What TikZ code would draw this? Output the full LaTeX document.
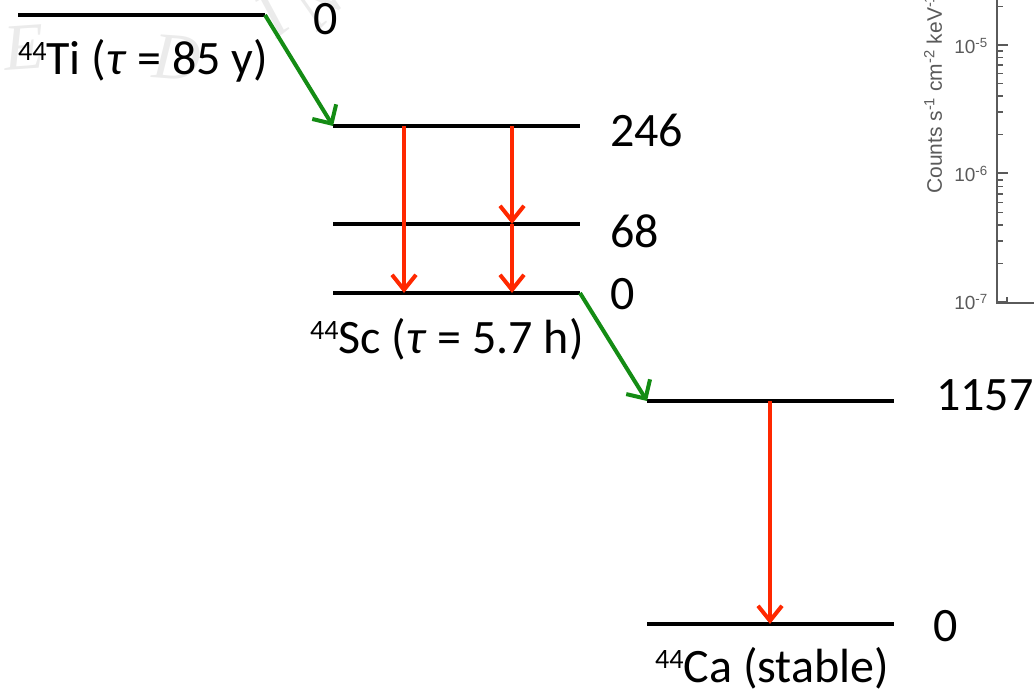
\documentclass[tikz,border=0pt]{standalone}
\usepackage{fontspec}
\setmainfont{Carlito}
\newfontfamily\plotfont{Liberation Sans}
\newfontfamily\wmfont{Liberation Serif}
\usetikzlibrary{arrows.meta}
\definecolor{gred}{RGB}{255,40,0}
\definecolor{bgreen}{RGB}{20,140,20}
\definecolor{axgray}{RGB}{90,90,90}
\newcommand\isotope[2]{\raisebox{14pt}{\fontsize{28}{28}\selectfont #1}#2}
\begin{document}
\begin{tikzpicture}[x=1pt,y=-1pt,
  lvl/.style={line width=3.2pt, black},
  gam/.style={draw=gred, line width=4pt, -{Straight Barb[length=15pt,width=24pt,line width=4pt]}},
  bet/.style={draw=bgreen, line width=4pt, -{Straight Barb[length=14pt,width=28pt,line width=4pt]}},
  big/.style={font=\fontsize{48}{52}\selectfont, inner sep=0pt, anchor=base west},
  wm/.style={font=\wmfont\itshape\fontsize{66}{70}\selectfont, text=gray!16, inner sep=0pt},
  plt/.style={font=\plotfont\fontsize{19}{20}\selectfont, text=axgray, inner sep=0pt},
  axl/.style={draw=axgray, line width=1.4pt}
]
\useasboundingbox (0,0) rectangle (1034,693);

% watermark
\node[wm, rotate=4] (wmE) at (24,48) {E};
\node[wm, rotate=-4] (wmD) at (177,58) {D};
\node[wm, rotate=38] (wmI) at (272,16) {I};
\node[wm, rotate=45] (wmN) at (318,2) {N};

% plot fragment
\coordinate (axtop) at (997,-5);
\coordinate (axorg) at (997,303);
\coordinate (axright) at (1040,303);
\draw[axl] (axtop) -- (axorg) -- (axright);
\foreach \y in {45,173,302}{
  \draw[axl] (997,\y) -- (1008,\y);
}
\foreach \base in {302,173,45}{
  \foreach \k in {2,...,9}{
    \pgfmathsetmacro\yy{\base-128*ln(\k)/ln(10)}
    \pgfmathparse{\yy>-5 ? 1 : 0}
    \ifnum\pgfmathresult=1
      \draw[axl] (997,\yy) -- (1003,\yy);
    \fi
  }
}
\draw[axl] (1007,303) -- (1007,297);
\node[plt, anchor=east] (t5) at (988,46) {10\textsuperscript{-5}};
\node[plt, anchor=east] (t6) at (988,174) {10\textsuperscript{-6}};
\node[plt, anchor=east] (t7) at (988,302) {10\textsuperscript{-7}};
\node[plt, font=\plotfont\fontsize{21}{22}\selectfont, rotate=90, anchor=west] (ylab) at (933,194) {Counts s\textsuperscript{-1} cm\textsuperscript{-2} keV\textsuperscript{-1}};

% levels
\coordinate (tiL) at (18,15);   \coordinate (tiR) at (265,15);
\coordinate (sa) at (333,126);  \coordinate (sb) at (580,126);
\coordinate (ma) at (333,224);  \coordinate (mb) at (580,224);
\coordinate (za) at (333,293);  \coordinate (zb) at (580,293);
\coordinate (ca) at (647,401);  \coordinate (cb) at (894,401);
\coordinate (ga) at (647,624);  \coordinate (gb) at (894,624);
\draw[lvl] (tiL) -- (tiR);
\draw[lvl] (sa) -- (sb);
\draw[lvl] (ma) -- (mb);
\draw[lvl] (za) -- (zb);
\draw[lvl] (ca) -- (cb);
\draw[lvl] (ga) -- (gb);

% transition points
\coordinate (g1t) at (404,126); \coordinate (g1b) at (404,293);
\coordinate (g2t) at (512,126); \coordinate (g2m) at (512,224); \coordinate (g2b) at (512,293);
\coordinate (g3t) at (770,401); \coordinate (g3b) at (770,624);

\draw[gam] (g1t) -- (g1b);
\draw[gam] (g2t) -- (g2m);
\draw[gam] (g2m) -- (g2b);
\draw[gam] (g3t) -- (g3b);
\draw[bet] (tiR) -- (sa);
\draw[bet] (zb) -- (ca);

% labels
\node[big] (e0) at (313,35) {0};
\node[big] (e246) at (610,146) {246};
\node[big] (e68) at (610,247) {68};
\node[big] (e0b) at (610,309) {0};
\node[big] (e1157) at (936,410) {1157};
\node[big] (e0c) at (933,641) {0};
\node[big] (ti) at (18,75) {\isotope{44}{Ti (\textit{τ} = 85 y)}};
\node[big] (sc) at (310,353) {\isotope{44}{Sc (\textit{τ} = 5.7 h)}};
\node[big] (caL) at (655,682) {\isotope{44}{Ca (stable)}};
\end{tikzpicture}
\end{document}
